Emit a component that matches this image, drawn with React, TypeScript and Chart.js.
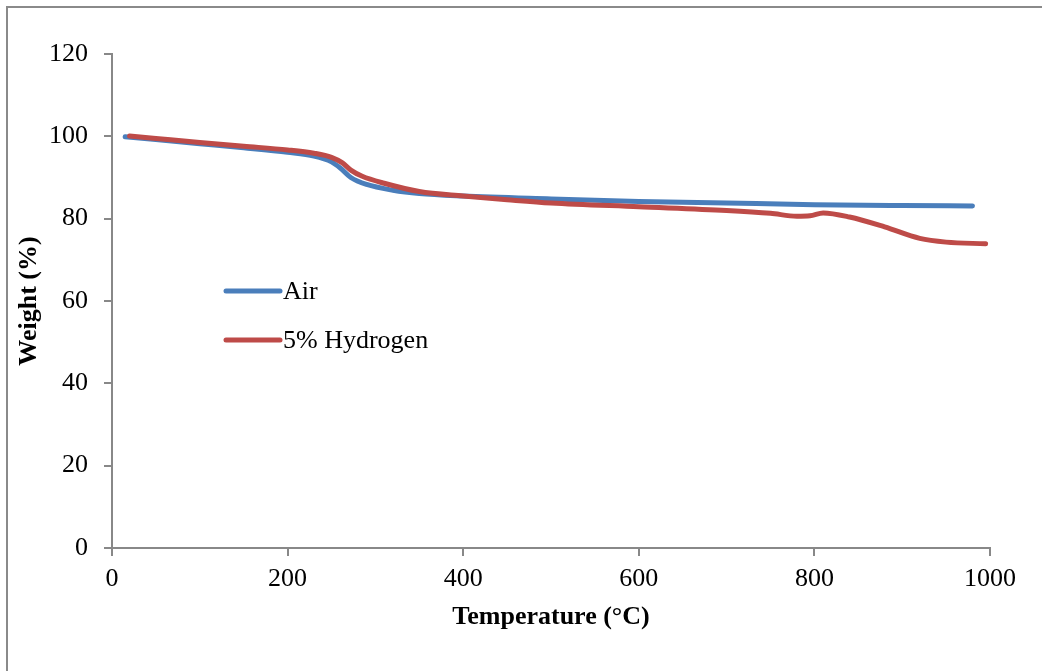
import React, { useEffect, useRef } from "react";
import { Chart, registerables } from "chart.js";

Chart.register(...registerables);

const airTemps = [15, 50, 100, 150, 200, 230, 250, 260, 272, 290, 320, 350, 400, 500, 600, 700, 800, 900, 980];
const airWeights = [99.9, 99.2, 98.2, 97.2, 96.1, 95.2, 93.8, 92.3, 90.0, 88.3, 86.9, 86.1, 85.5, 84.8, 84.2, 83.8, 83.4, 83.2, 83.1];

const h2Temps = [20, 50, 100, 150, 200, 230, 250, 262, 272, 285, 310, 350, 400, 450, 500, 600, 700, 750, 780, 795, 810, 840, 880, 920, 950, 995];
const h2Weights = [100.1, 99.5, 98.5, 97.6, 96.7, 95.9, 94.9, 93.6, 91.8, 90.3, 88.6, 86.6, 85.5, 84.6, 83.8, 82.9, 82.0, 81.3, 80.6, 80.7, 81.4, 80.4, 78.0, 75.2, 74.3, 73.9];

const seriesNames = ["Air", "5% Hydrogen"];
const seriesColors = ["#4A7EBB", "#BE4B48"];

const xTitle = "Temperature (°C)";
const yTitle = "Weight (%)";

const FONT = "'Liberation Serif', 'Times New Roman', serif";
const FS = 26;

const legendPlugin = {
  id: "insideLegend",
  afterDraw(chart: any) {
    const { ctx, chartArea } = chart;
    const x0 = chartArea.left + 114;
    const y0 = chartArea.top + 237;
    ctx.save();
    seriesNames.forEach((name, i) => {
      const y = y0 + i * 49;
      ctx.beginPath();
      ctx.strokeStyle = seriesColors[i];
      ctx.lineWidth = 5;
      ctx.lineCap = "round";
      ctx.moveTo(x0, y);
      ctx.lineTo(x0 + 54, y);
      ctx.stroke();
      ctx.fillStyle = "#000";
      ctx.font = `${FS}px ${FONT}`;
      ctx.textBaseline = "middle";
      ctx.textAlign = "left";
      ctx.fillText(name, x0 + 57, y + 1);
    });
    ctx.restore();
  },
};

export default function App() {
  const canvasRef = useRef<HTMLCanvasElement | null>(null);

  useEffect(() => {
    document.body.style.margin = "0";
    const canvas = canvasRef.current;
    if (!canvas) return;
    const toPts = (xs: number[], ys: number[]) => xs.map((x, i) => ({ x, y: ys[i] }));
    const chart = new Chart(canvas, {
      type: "line",
      data: {
        datasets: [
          {
            label: seriesNames[0],
            data: toPts(airTemps, airWeights),
            borderColor: seriesColors[0],
            backgroundColor: seriesColors[0],
            borderWidth: 5,
            pointRadius: 0,
            cubicInterpolationMode: "monotone",
            borderCapStyle: "round",
            borderJoinStyle: "round",
            order: 1,
          },
          {
            label: seriesNames[1],
            data: toPts(h2Temps, h2Weights),
            borderColor: seriesColors[1],
            backgroundColor: seriesColors[1],
            borderWidth: 5,
            pointRadius: 0,
            cubicInterpolationMode: "monotone",
            borderCapStyle: "round",
            borderJoinStyle: "round",
            order: 0,
          },
        ],
      },
      options: {
        responsive: false,
        animation: false,
        devicePixelRatio: 1,
        layout: { padding: { left: 0, top: 54, right: 52, bottom: 0 } },
        plugins: {
          legend: { display: false },
          tooltip: { enabled: false },
        },
        scales: {
          x: {
            type: "linear",
            min: 0,
            max: 1000,
            afterFit: (s: any) => {
              s.height = 123;
            },
            ticks: {
              stepSize: 200,
              color: "#000",
              font: { family: FONT, size: FS },
              padding: 8,
              maxRotation: 0,
              callback: (v: any) => String(v),
            },
            grid: {
              drawOnChartArea: false,
              drawTicks: true,
              tickLength: 8,
              color: "#888",
              lineWidth: 2,
            },
            border: { display: true, color: "#888", width: 2 },
            title: {
              display: true,
              text: xTitle,
              color: "#000",
              font: { family: FONT, size: FS, weight: "bold" },
              padding: { top: 0, bottom: 38 },
            },
          },
          y: {
            type: "linear",
            min: 0,
            max: 120,
            afterFit: (s: any) => {
              s.width = 112;
            },
            ticks: {
              stepSize: 20,
              color: "#000",
              font: { family: FONT, size: FS },
              padding: 16,
              callback: (v: any) => String(v),
            },
            grid: {
              drawOnChartArea: false,
              drawTicks: true,
              tickLength: 8,
              color: "#888",
              lineWidth: 2,
            },
            border: { display: true, color: "#888", width: 2 },
            title: {
              display: true,
              text: yTitle,
              color: "#000",
              font: { family: FONT, size: FS, weight: "bold" },
              padding: { top: 14, bottom: 0 },
            },
          },
        },
      },
      plugins: [legendPlugin],
    } as any);
    return () => chart.destroy();
  }, []);

  return (
    <div style={{ position: "relative", width: 1042, height: 671, overflow: "hidden", background: "#fff" }}>
      <div
        style={{
          position: "absolute",
          left: 6,
          top: 6,
          width: 1100,
          height: 700,
          borderLeft: "2px solid #8a8a8a",
          borderTop: "2px solid #8a8a8a",
          boxSizing: "border-box",
        }}
      />
      <canvas ref={canvasRef} width={1042} height={671} style={{ position: "absolute", left: 0, top: 0 }} />
    </div>
  );
}
